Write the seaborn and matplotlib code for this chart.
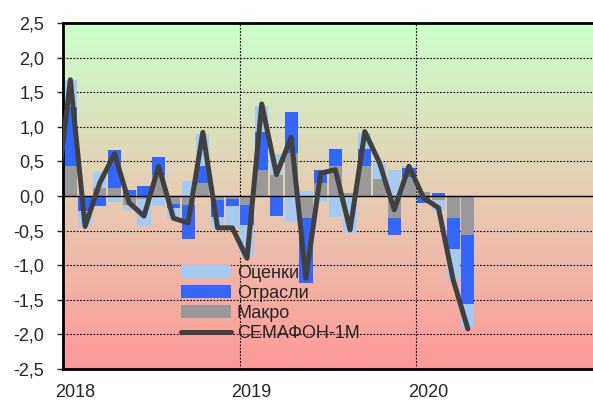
import numpy as np
import pandas as pd
import seaborn as sns
import matplotlib.pyplot as plt

# monthly contributions, Jan 2018 - Apr 2020
months = pd.date_range("2018-01-01", periods=28, freq="MS")
macro = [0.44, -0.01, 0.12, 0.12, -0.13, -0.05, 0.31, -0.11, -0.13, 0.19, -0.06, -0.04,
         -0.13, 0.38, 0.31, 0.62, -0.32, 0.19, 0.44, 0.05, 0.44, 0.25, -0.32, 0.28,
         0.06, -0.06, -0.32, -0.57]
sectors = [0.84, -0.20, -0.15, 0.55, 0.09, 0.15, 0.25, -0.06, -0.49, 0.24, -0.24, -0.11,
           -0.29, 0.54, -0.29, 0.60, -0.94, 0.19, 0.24, 0.00, 0.24, 0.00, -0.24, 0.12,
           -0.10, 0.04, -0.44, -0.99]
estimates = [0.39, -0.23, 0.23, -0.08, -0.07, -0.39, -0.15, -0.15, 0.22, 0.47, -0.16, -0.31,
             -0.46, 0.38, 0.30, -0.38, 0.07, -0.08, -0.30, -0.53, 0.23, 0.23, 0.38, 0.03,
             0.00, -0.15, -0.46, -0.35]

# composite index (starts one month earlier, clipped by the axis)
index_months = pd.date_range("2017-12-01", periods=29, freq="MS")
index_vals = [-0.15, 1.68, -0.44, 0.19, 0.61, -0.10, -0.29, 0.43, -0.32, -0.39, 0.92, -0.46,
              -0.46, -0.90, 1.33, 0.31, 0.85, -1.19, 0.33, 0.38, -0.49, 0.93, 0.48, -0.20,
              0.43, -0.03, -0.17, -1.21, -1.92]

year_labels = ["2018", "2019", "2020"]
y_ticks = np.arange(-2.5, 2.51, 0.5)

series = [("Макро", macro, "#999999"),
          ("Отрасли", sectors, "#3366FF"),
          ("Оценки", estimates, "#A6CAF0")]


def month_pos(dates):
    """month number counted from Jan 2018"""
    return (dates.year - 2018) * 12 + dates.month - 1


sns.set_style("white")
plt.rcParams["font.family"] = ["Liberation Sans", "DejaVu Sans"]

fig = plt.figure(figsize=(5.93, 4.01), dpi=100)
ax = fig.add_axes([63 / 593, 32 / 401, 530 / 593, 346 / 401])

df = pd.DataFrame({"pos": month_pos(months)})
for name, vals, _ in series:
    df[name] = vals

# stacked bars, positives and negatives stacked separately (like Excel)
pos_base = np.zeros(len(df))
neg_base = np.zeros(len(df))
for name, vals, color in series:
    vals = np.array(vals)
    bottom = np.where(vals >= 0, pos_base, neg_base)
    sns.barplot(data=df, x="pos", y=name, color=color, saturation=1, width=0.9,
                errorbar=None, bottom=bottom, linewidth=0, label=name, zorder=2, ax=ax)
    pos_base += np.clip(vals, 0, None)
    neg_base += np.clip(vals, None, 0)

sns.lineplot(x=month_pos(index_months), y=index_vals, color="#404040", linewidth=3.6,
             solid_capstyle="round", label="СЕМАФОН-1М", zorder=4, ax=ax)

# green -> red background
grad = np.linspace(0, 1, 256)[:, None]
top = np.array([204, 255, 204]) / 255
bot = np.array([255, 153, 153]) / 255
img = (top[None, None, :] * (1 - grad[:, :, None]) + bot[None, None, :] * grad[:, :, None])
ax.imshow(img, extent=[0, 1, 0, 1], transform=ax.transAxes, aspect="auto", zorder=-1)

ax.set_xlim(-0.5, 35.5)
ax.set_ylim(-2.5, 2.5)
ax.set_yticks(y_ticks)
ax.set_yticklabels([f"{v:.1f}".replace(".", ",") for v in y_ticks], fontsize=13)
ax.set_xticks([-0.5 + 12 * i + 0.8 for i in range(len(year_labels))])
ax.set_xticklabels(year_labels, fontsize=13)
ax.tick_params(axis="x", length=0, pad=11)
ax.tick_params(axis="y", direction="out", length=4.5, width=1, pad=9, left=True)
ax.set_xlabel("")
ax.set_ylabel("")

ax.yaxis.grid(True, linestyle=(0, (1.5, 1.5)), color="black", linewidth=0.8)
ax.set_axisbelow(True)
for x in [11.5, 23.5]:
    ax.axvline(x, color="black", linestyle=(0, (1.5, 1.5)), linewidth=0.8, zorder=1)
ax.axhline(0, color="black", linewidth=1, zorder=3)

for side in ["left", "top", "bottom"]:
    ax.spines[side].set_color("black")
    ax.spines[side].set_linewidth(2)
ax.spines["right"].set_visible(False)

handles, labels = ax.get_legend_handles_labels()
order = ["Оценки", "Отрасли", "Макро", "СЕМАФОН-1М"]
hmap = dict(zip(labels, handles))
ax.legend([hmap[k] for k in order], order, loc="upper left", bbox_to_anchor=(0.222, 0.302),
          frameon=False, fontsize=13, handlelength=2.77, handletextpad=0.33,
          labelspacing=0.18, borderpad=0, borderaxespad=0)

fig.savefig("out.png", dpi=100)
